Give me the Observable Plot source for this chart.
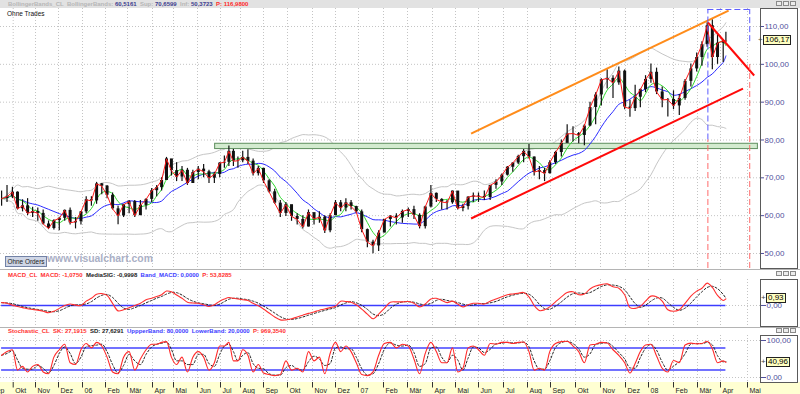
<!DOCTYPE html>
<html><head><meta charset="utf-8">
<script src="https://cdn.jsdelivr.net/npm/d3@7"></script>
<script src="https://cdn.jsdelivr.net/npm/@observablehq/plot@0.6"></script>
<style>
body{margin:0;background:#fff;}
#root{position:relative;width:800px;height:394px;overflow:hidden;background:#fff;font-family:"Liberation Sans",Arial,sans-serif;}
.abs{position:absolute;}
.hdr{position:absolute;left:8px;font-size:6px;font-weight:bold;white-space:pre;line-height:7px;}
.btns{position:absolute;left:776px;display:flex;gap:1px;}
.btns span{display:block;width:6px;height:5px;border:1px solid #8a8a8a;background:#ececec;box-sizing:border-box;}
.vbox{position:absolute;border:1px solid #5a5a5a;box-sizing:border-box;}
.val{position:absolute;background:#ffffc0;border:1px solid #222;font-size:8px;line-height:8px;padding:0 1px;color:#000;}
.plus{position:absolute;font-size:8px;line-height:8px;color:#444;}
</style></head><body><div id="root"></div>
<script>
// ---------- data (weekly) ----------
const weekDates = [
"2005-09-16","2005-09-23","2005-09-30","2005-10-07","2005-10-14","2005-10-21","2005-10-28","2005-11-04","2005-11-11","2005-11-18","2005-11-25","2005-12-02","2005-12-09","2005-12-16","2005-12-23","2005-12-30",
"2006-01-06","2006-01-13","2006-01-20","2006-01-27","2006-02-03","2006-02-10","2006-02-17","2006-02-24","2006-03-03","2006-03-10","2006-03-17","2006-03-24","2006-03-31","2006-04-07","2006-04-14","2006-04-21","2006-04-28","2006-05-05","2006-05-12","2006-05-19","2006-05-26","2006-06-02","2006-06-09","2006-06-16","2006-06-23","2006-06-30","2006-07-07","2006-07-14","2006-07-21","2006-07-28","2006-08-04","2006-08-11","2006-08-18","2006-08-25","2006-09-01","2006-09-08","2006-09-15","2006-09-22","2006-09-29","2006-10-06","2006-10-13","2006-10-20","2006-10-27","2006-11-03","2006-11-10","2006-11-17","2006-11-24","2006-12-01","2006-12-08","2006-12-15","2006-12-22","2006-12-29",
"2007-01-05","2007-01-12","2007-01-19","2007-01-26","2007-02-02","2007-02-09","2007-02-16","2007-02-23","2007-03-02","2007-03-09","2007-03-16","2007-03-23","2007-03-30","2007-04-06","2007-04-13","2007-04-20","2007-04-27","2007-05-04","2007-05-11","2007-05-18","2007-05-25","2007-06-01","2007-06-08","2007-06-15","2007-06-22","2007-06-29","2007-07-06","2007-07-13","2007-07-20","2007-07-27","2007-08-03","2007-08-10","2007-08-17","2007-08-24","2007-08-31","2007-09-07","2007-09-14","2007-09-21","2007-09-28","2007-10-05","2007-10-12","2007-10-19","2007-10-26","2007-11-02","2007-11-09","2007-11-16","2007-11-23","2007-11-30","2007-12-07","2007-12-14","2007-12-21","2007-12-28",
"2008-01-04","2008-01-11","2008-01-18","2008-01-25","2008-02-01","2008-02-08","2008-02-15","2008-02-22","2008-02-29","2008-03-07","2008-03-14","2008-03-21","2008-03-28","2008-04-04","2008-04-07"];
const weekHigh = [66.5,68.0,67.5,66.3,64.2,64.5,62.2,62.0,61.5,58.6,58.9,59.6,61.5,62.0,59.5,61.1,
65.0,65.0,68.8,68.5,68.0,66.0,62.5,63.0,64.0,64.0,64.0,64.5,67.2,68.0,70.0,75.4,74.5,74.0,73.0,72.5,72.0,73.0,73.5,72.0,71.5,74.0,75.8,78.4,77.5,75.5,77.0,77.4,75.0,73.0,72.5,69.5,67.0,64.0,63.5,62.5,60.5,60.0,61.5,60.5,61.0,60.0,60.5,64.0,64.0,64.5,64.0,62.5,
61.5,56.5,53.5,56.0,59.0,60.0,60.5,61.5,62.0,62.5,60.5,62.5,68.0,66.0,64.5,64.0,66.5,66.0,63.0,65.0,66.0,66.0,66.5,68.0,69.5,71.0,73.0,74.0,76.0,77.5,78.8,75.5,73.0,72.5,74.5,77.0,80.0,84.0,83.5,82.0,84.0,90.0,92.5,96.2,98.6,97.0,99.3,98.5,90.5,94.5,93.5,97.0,
100.1,99.0,94.0,91.0,93.0,92.0,96.0,100.1,103.0,106.0,111.0,111.8,108.0,106.5,108.5];
const weekLow = [62.5,63.5,64.5,61.5,61.0,60.0,59.5,58.5,57.5,56.3,56.2,56.0,58.5,57.5,56.5,57.5,
60.5,62.5,63.0,65.5,64.5,61.5,57.6,59.5,60.5,59.5,60.0,61.5,63.5,65.0,66.5,69.5,70.5,69.0,69.0,68.0,68.5,69.5,70.0,68.5,68.5,70.0,72.5,73.0,73.0,72.5,74.0,73.5,70.5,70.5,68.5,66.0,63.0,59.5,59.8,58.5,57.5,56.5,57.0,57.5,58.0,55.3,55.5,60.0,61.0,61.0,61.5,60.5,
55.5,51.5,49.9,50.5,55.5,57.0,57.5,58.0,59.5,59.0,56.5,56.5,62.0,63.5,61.5,61.5,63.0,61.5,61.0,61.5,63.5,63.5,64.0,64.0,67.0,68.0,70.5,71.5,73.5,74.0,75.0,70.5,69.5,69.0,71.0,73.5,75.5,79.5,79.5,79.0,78.5,83.5,84.0,89.0,93.5,91.0,94.5,88.0,86.0,87.5,88.5,92.5,
95.0,92.0,88.5,86.1,88.0,86.5,90.5,94.0,98.0,99.5,104.5,98.6,100.0,100.5,105.8];
const weekClose = [64.5,65.0,66.2,61.8,62.6,60.6,61.1,60.6,57.8,56.6,58.7,59.3,61.4,58.1,58.4,61.0,
64.2,63.9,68.4,67.8,65.4,61.8,59.9,62.9,63.7,60.0,62.7,64.3,66.6,67.4,69.3,75.0,71.9,70.2,72.0,68.5,71.4,72.3,71.6,69.9,70.9,73.9,74.1,77.0,74.4,74.5,75.4,74.4,71.1,72.5,69.2,66.3,63.3,60.6,62.9,59.8,59.0,57.0,60.8,59.1,59.6,56.0,60.0,63.4,62.0,63.4,62.4,61.0,
56.3,53.0,52.0,55.4,59.0,59.9,59.4,61.1,61.6,60.1,57.1,62.3,65.9,64.3,63.6,63.4,66.5,61.9,62.4,64.9,65.2,65.1,64.8,68.0,68.9,70.7,72.8,73.9,75.6,77.0,75.5,71.5,71.9,71.1,74.0,76.7,79.1,81.6,81.7,81.2,83.7,88.6,91.9,95.9,96.3,95.1,98.2,88.7,88.3,91.3,93.3,96.0,
97.9,92.7,90.6,90.7,89.0,91.0,95.5,98.8,101.8,105.2,110.2,101.8,105.6,106.2,106.17];
const macdLine = [0.4,0.3,0.05,-0.15,-0.3,-0.46,-0.55,-0.65,-0.8,-1.0,-0.8,-0.4,0.0,0.2,0.05,0.0,
0.6,1.0,1.55,1.65,1.4,0.3,-0.75,-0.6,-0.3,0.0,0.3,0.8,1.0,1.25,1.5,2.0,1.9,1.45,1.0,0.46,0.35,0.3,0.1,-0.14,0.1,0.6,0.9,1.1,1.0,0.9,0.8,0.7,0.3,-0.05,-0.5,-1.05,-1.6,-2.0,-2.0,-1.85,-1.6,-1.35,-1.1,-0.9,-0.65,-0.5,-0.3,-0.1,0.6,0.55,0.46,0.1,
-0.5,-1.2,-1.85,-1.2,-0.4,0.45,0.5,0.5,0.55,0.3,-0.2,0.2,0.9,1.0,0.7,0.4,0.6,0.2,-0.2,0.1,0.3,0.3,0.2,0.6,0.9,1.2,1.5,1.6,1.7,1.8,1.2,0.0,-0.7,-0.6,-0.2,0.5,1.2,1.8,1.9,1.5,1.6,2.3,2.7,2.9,3.0,2.6,2.4,1.5,-0.3,-0.4,-0.1,0.6,
1.3,1.2,0.6,-0.6,-0.8,-0.6,0.3,1.3,2.0,2.4,3.1,2.5,1.4,0.7,0.93];
const stochK = [60,70,75,20,30,15,30,35,15,10,55,75,90,40,35,75,
92,80,95,85,55,15,10,55,70,20,50,75,90,90,95,97,55,35,55,15,55,70,55,20,40,85,85,95,45,45,75,60,15,35,12,8,5,8,45,20,25,15,70,45,55,10,65,95,70,85,70,40,
8,5,15,60,92,95,80,90,85,50,10,65,95,70,40,40,80,15,25,80,85,75,60,92,90,95,95,92,95,96,70,20,25,20,70,92,97,98,85,70,40,88,90,95,93,75,60,40,12,38,70,88,
90,58,25,15,46,40,88,93,91,92,98,78,40,45,41];
// month ticks of the time axis and their labels
const monthTicks = ["2005-09-01","2005-10-01","2005-11-01","2005-12-01","2006-01-01","2006-02-01","2006-03-01","2006-04-01","2006-05-01","2006-06-01","2006-07-01","2006-08-01","2006-09-01","2006-10-01","2006-11-01","2006-12-01","2007-01-01","2007-02-01","2007-03-01","2007-04-01","2007-05-01","2007-06-01","2007-07-01","2007-08-01","2007-09-01","2007-10-01","2007-11-01","2007-12-01","2008-01-01","2008-02-01","2008-03-01","2008-04-01","2008-05-01"];
const monthLabels = ["Sep","Okt","Nov","Dez","06","Feb","Mär","Apr","Mai","Jun","Jul","Aug","Sep","Okt","Nov","Dez","07","Feb","Mär","Apr","Mai","Jun","Jul","Aug","Sep","Okt","Nov","Dez","08","Feb","Mär","Apr","Mai"];
const priceTicks = [50,60,70,80,90,100,110];
// drawn lines (channel, trend lines), support zone, markers
const trendStartDates = ["2007-05-22","2007-05-22","2008-03-15"];
const trendStartPrices = [81.7,59.25,111.06];
const trendEndDates = ["2008-04-10","2008-04-26","2008-05-10"];
const trendEndPrices = [114.2,93.6,97.05];
const zoneDates = ["2006-06-24","2008-05-15"];
const zonePrices = [77.6,79.0];
const markerDates = ["2008-03-15","2008-05-04"];
const lastValues = {price:106.17, macd:0.93, stoch:40.96};

// ---------- scale configuration ----------
const P = s => new Date(s + "T00:00:00Z");
// the time axis of the reference is trading-day based: months are mapped piecewise
const xDomain = [...monthTicks, "2008-06-01"].map(P);
const xRange = [-10.5,12.7,35,58,82,105,127,152,173,197,220,240,263,287,312,335,358,383,407,432,455,478,503,527,550,575,600,625,648,673,697,720,747,770];
const X = {type:"utc", domain:xDomain, range:xRange, axis:null};
const comma = d => d3.format(".2f")(d).replace(".", ",");

const weeks = weekDates.map((d,i) => ({date:P(d), high:weekHigh[i], low:weekLow[i], close:weekClose[i], open: i ? weekClose[i-1] : weekClose[i], macd:macdLine[i], sk:stochK[i]}));
const trends = trendStartDates.map((d,i) => ({x1:P(d), y1:trendStartPrices[i], x2:P(trendEndDates[i]), y2:trendEndPrices[i], c:i}));
const ticksD = monthTicks.map(P);
const first = weeks[0].date, last = weeks[weeks.length-1].date;
const gridStyle = {stroke:"#c4c4c4", strokeDasharray:"1,2", strokeWidth:1};
const common = {width:800, marginLeft:0, marginRight:40, style:{fontFamily:"Liberation Sans, Arial, sans-serif", fontSize:"8px", color:"#50509c", background:"transparent", overflow:"visible"}};

const root = document.getElementById("root");
function place(el, top){ const d=document.createElement("div"); d.className="abs"; d.style.left="0px"; d.style.top=top+"px"; d.appendChild(el); root.appendChild(d); return d; }
function html(s){ root.insertAdjacentHTML("beforeend", s); }

// ---------- main price panel ----------
const bbUp = v => d3.mean(v) + 2 * (d3.deviation(v) ?? 0);
const bbDn = v => d3.mean(v) - 2 * (d3.deviation(v) ?? 0);
const main = Plot.plot({...common, height:270, marginTop:8, marginBottom:2,
  x:X,
  y:{domain:[46.03,114.76], axis:"right", ticks:priceTicks, tickFormat:comma, tickSize:3, tickPadding:1, label:null},
  marks:[
    Plot.ruleY(priceTicks, gridStyle),
    Plot.ruleX(ticksD, gridStyle),
    Plot.line(weeks, Plot.windowY({k:20, anchor:"end", reduce:bbUp}, {x:"date", y:"close", stroke:"#c6c6c6", strokeWidth:1, curve:"catmull-rom"})),
    Plot.line(weeks, Plot.windowY({k:20, anchor:"end", reduce:bbDn}, {x:"date", y:"close", stroke:"#c6c6c6", strokeWidth:1, curve:"catmull-rom"})),
    Plot.rect([0], {x1:() => P(zoneDates[0]), x2:() => P(zoneDates[1]), y1:() => zonePrices[0], y2:() => zonePrices[1], fill:"#d3ebcf", stroke:"#5f8f5f", strokeWidth:1, clip:true}),
    Plot.line(weeks, Plot.windowY({k:10, anchor:"end"}, {x:"date", y:"close", stroke:"#2a2aff", strokeWidth:1, curve:"catmull-rom"})),
    Plot.line(weeks, Plot.windowY({k:4, anchor:"end"}, {x:"date", y:"close", stroke:"#2ed82e", strokeWidth:1, curve:"catmull-rom"})),
    Plot.ruleX(weeks, {x:"date", y1:"low", y2:"high", stroke:"#111", strokeWidth:1.2}),
    Plot.ruleX(weeks, {x:"date", y1:"open", y2:"close", stroke:"#111", strokeWidth:3}),
    Plot.line(weeks, {x:"date", y:"close", stroke:"#ff1a1a", strokeWidth:1}),
    Plot.link(trends, {x1:"x1", y1:"y1", x2:"x2", y2:"y2", stroke:d => d.c === 0 ? "#ff8c1a" : "#ff0a0a", strokeWidth:2, clip:true}),
    Plot.ruleX([0], {x:() => P(markerDates[0]), y1:80, y2:114.5, stroke:"#5a5aff", strokeDasharray:"6,3", strokeWidth:1}),
    Plot.ruleX([0], {x:() => P(markerDates[0]), y1:46.03, y2:80, stroke:"#ff6a6a", strokeDasharray:"6,3", strokeWidth:1}),
    Plot.ruleX([0], {x:() => P(markerDates[1]), y1:106, y2:114.5, stroke:"#5a5aff", strokeDasharray:"6,3", strokeWidth:1}),
    Plot.ruleX([0], {x:() => P(markerDates[1]), y1:46.03, y2:100, stroke:"#ff6a6a", strokeDasharray:"6,3", strokeWidth:1}),
    Plot.ruleY([0], {y:() => 114.5, x1:() => P(markerDates[0]), x2:() => P(markerDates[1]), stroke:"#5a5aff", strokeDasharray:"6,3", strokeWidth:1})
  ]});
place(main, 0);

// ---------- MACD panel ----------
const macd = Plot.plot({...common, height:47, marginTop:0, marginBottom:0,
  x:X,
  y:{domain:[-2.92,3.61], axis:"right", ticks:[0], tickFormat:comma, tickSize:5, tickPadding:1, label:null},
  marks:[
    Plot.ruleX(ticksD, gridStyle),
    Plot.ruleY([0], gridStyle),
    Plot.ruleY([0], {x1:first, x2:last, stroke:"#3c3cff", strokeWidth:1.3}),
    Plot.line(weeks, Plot.windowY({k:3, anchor:"end"}, {x:"date", y:"macd", stroke:"#222", strokeWidth:1, strokeDasharray:"2,2", curve:"catmull-rom"})),
    Plot.line(weeks, {x:"date", y:"macd", stroke:"#ff3030", strokeWidth:1.1, curve:"catmull-rom"})
  ]});
place(macd, 279);

// ---------- Stochastic panel ----------
const stoch = Plot.plot({...common, height:47, marginTop:0, marginBottom:0,
  x:X,
  y:{domain:[-13.5,113.5], axis:"right", ticks:[0,100], tickFormat:comma, tickSize:5, tickPadding:1, label:null},
  marks:[
    Plot.ruleX(ticksD, gridStyle),
    Plot.ruleY([0,100], gridStyle),
    Plot.ruleY([20,80], {x1:first, x2:last, stroke:"#7272ff", strokeWidth:2}),
    Plot.line(weeks, Plot.windowY({k:2, anchor:"end"}, {x:"date", y:"sk", stroke:"#222", strokeWidth:1, strokeDasharray:"2,2", curve:"monotone-x"})),
    Plot.line(weeks, {x:"date", y:"sk", stroke:"#ff2a2a", strokeWidth:1.1, curve:"monotone-x"})
  ]});
place(stoch, 335);

// ---------- time axis band ----------
html('<div class="abs" style="left:0;top:382px;width:800px;height:12px;background:#ffffd2"></div>');
const axis = Plot.plot({...common, height:12, marginTop:0, marginBottom:0,
  x:X, y:{domain:[0,12], range:[0,12], axis:null},
  marks:[
    Plot.ruleX(ticksD, {x:d => d, y1:0, y2:5.5, stroke:"#333", strokeWidth:1}),
    Plot.text(ticksD, {x:d => d, y:8.5, dx:2, text:(d,i) => monthLabels[i], textAnchor:"start", fill:"#222", fontSize:7})
  ]});
place(axis, 382);

// ---------- chrome: headers, separators, boxes, labels ----------
html('<div class="abs" style="left:0;top:0;width:800px;height:8px;background:#e2e2e2"></div>');
html('<div class="hdr" style="top:1px;color:#b6b6b6">BollingerBands_CL  BollingerBands: <span style="color:#3c3c8e">60,5161</span>  Sup: <span style="color:#3c3c8e">70,6599</span>  Inf: <span style="color:#3c3c8e">50,3723</span>  <span style="color:#ff2a2a">P: 116,9800</span></div>');
html('<div class="abs" style="left:7px;top:10px;font-size:6.5px;color:#111">Ohne Trades</div>');
html('<div class="abs" style="left:0;top:269px;width:800px;height:1px;background:#b4b4b4"></div>');
html('<div class="abs" style="left:0;top:327px;width:800px;height:1px;background:#b4b4b4"></div>');
html('<div class="hdr" style="top:272px;color:#ff3030">MACD_CL  MACD: -1,0750  <span style="color:#222">MediaSIG: -0,9998</span>  <span style="color:#3c3cff">Band_MACD: 0,0000</span>  P: 53,8285</div>');
html('<div class="hdr" style="top:328px;color:#ff3030">Stochastic_CL  SK: 27,1915  <span style="color:#222">SD: 27,6291</span>  <span style="color:#3c3cff">UppperBand: 80,0000  LowerBand: 20,0000</span>  P: 969,3540</div>');
html('<div class="vbox" style="left:760px;top:8px;width:38px;height:261px"></div>');
html('<div class="vbox" style="left:760px;top:279px;width:38px;height:48px"></div>');
html('<div class="vbox" style="left:760px;top:335px;width:38px;height:48px"></div>');
for (const t of [1,271,328]) html('<div class="btns" style="top:'+t+'px"><span></span><span></span><span></span></div>');
html('<div class="abs" style="left:47px;top:253px;font-size:10.4px;font-weight:bold;color:#aab0c6;white-space:pre">www.visualchart.com</div>');
html('<div class="abs" style="left:5px;top:256px;width:42px;height:11px;box-sizing:border-box;border:1px solid #7282a6;background:#cfd6e6;font-size:6.4px;line-height:9px;color:#222;text-align:center">Ohne Orders</div>');
// current-value boxes at the right axis
const yMain = v => 8 + (114.76 - v) / (114.76 - 46.03) * 260;
const yMacd = v => 279 + (3.61 - v) / (3.61 + 2.92) * 47;
const ySto = v => 335 + (113.5 - v) / 127 * 47;
function valBox(v, y, left){ html('<div class="plus" style="left:'+(left-5)+'px;top:'+(y-4)+'px">+</div><div class="val" style="left:'+left+'px;top:'+(y-5)+'px">'+comma(v)+'</div>'); }
valBox(lastValues.price, yMain(lastValues.price), 763);
valBox(lastValues.macd, yMacd(lastValues.macd), 766);
valBox(lastValues.stoch, ySto(lastValues.stoch), 766);
</script></body></html>
